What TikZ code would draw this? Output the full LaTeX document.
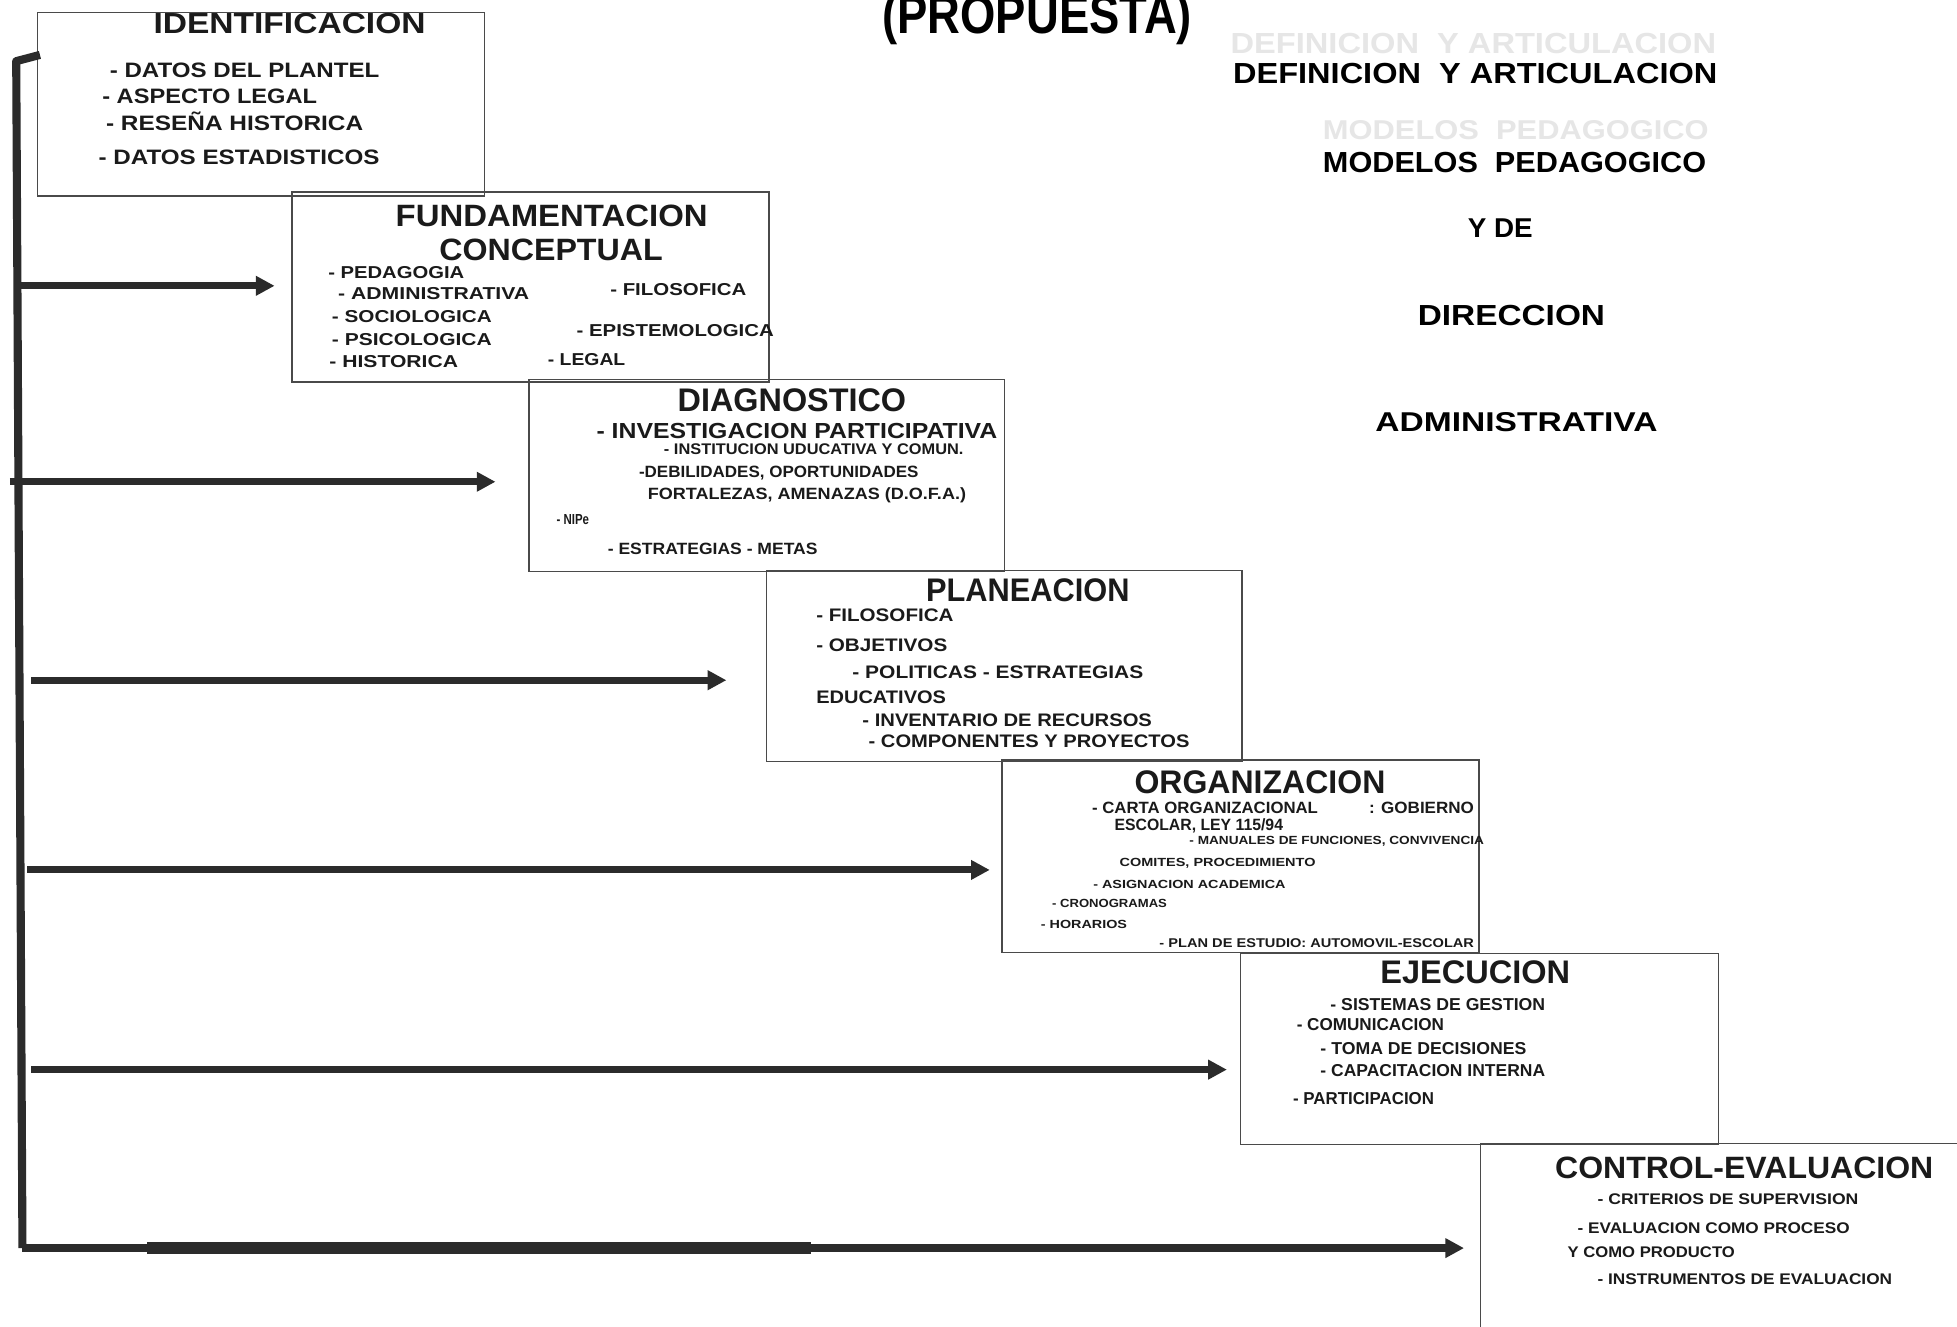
\documentclass[tikz,border=0pt]{standalone}
\usepackage{fontspec}
\setmainfont{Liberation Sans}
\usepackage{graphicx}
\usetikzlibrary{arrows.meta,calc}

\definecolor{ink}{HTML}{1A1A1A}
\definecolor{boxline}{HTML}{4A4A4A}
\definecolor{arrowink}{HTML}{2B2B2B}
\definecolor{ghost}{HTML}{E6E6E6}

% text scaled to a given width and cap height
\newcommand\capbox[3]{\resizebox{#1pt}{#2pt}{\vphantom{X}\smash{#3}}}
% name, left x, centre y, width, cap height, text
\newcommand\lineat[6]{\node[lbl] (#1) at (#2,{#3+#5/2}) {\capbox{#4}{#5}{#6}};}
% name, left x, top y, width, height
\newcommand\boxat[5]{\node[stagebox, minimum width=#4pt, minimum height=#5pt] (#1) at (#2,#3) {};}

\tikzset{
  lbl/.style={anchor=base west, inner sep=0pt, outer sep=0pt, text=ink, font=\bfseries},
  side/.style={lbl, text=black},
  faint/.style={lbl, text=ghost},
  stagebox/.style={draw=boxline, line width=1.2pt, inner sep=0pt, outer sep=0pt, anchor=north west},
  conn/.style={draw=arrowink, line width=5.5pt, -{Triangle[length=15pt,width=15pt]}},
  spine/.style={draw=arrowink, line width=6.5pt, line join=round},
}

\begin{document}
\begin{tikzpicture}[x=1pt,y=-1pt]
\useasboundingbox (0,0) rectangle (1568,1063);
\clip (0,0) rectangle (1568,1063);
\fill[white] (0,0) rectangle (1568,1063);

% title, cut by the top edge
\node[side] (title) at (707,27) {\capbox{248}{30}{(PROPUESTA)}};

% stage boxes
\boxat{ident}{30}{10}{358}{147}
\boxat{fund}{234}{154}{382}{152}
\boxat{diag}{424}{304}{381}{154}
\boxat{plan}{614}{457}{381}{153}
\boxat{orga}{803}{609}{382}{154}
\boxat{ejec}{994}{764}{383}{153}
\boxat{ctrl}{1186}{916}{500}{300}

% IDENTIFICACION
\lineat{idT}{123}{19}{218}{16}{IDENTIFICACION}
\lineat{id1}{88}{56}{216}{11.5}{- DATOS DEL PLANTEL}
\lineat{id2}{82}{77}{172}{11.5}{- ASPECTO LEGAL}
\lineat{id3}{85}{99}{206}{11.5}{- RESEÑA HISTORICA}
\lineat{id4}{79}{126}{225}{11.5}{- DATOS ESTADISTICOS}

% FUNDAMENTACION CONCEPTUAL
\lineat{fuT1}{317}{173}{250}{17}{FUNDAMENTACION}
\lineat{fuT2}{352}{200}{179}{17}{CONCEPTUAL}
\lineat{fu1}{263}{218}{109}{9.5}{- PEDAGOGIA}
\lineat{fu2}{271}{235}{153}{9.5}{- ADMINISTRATIVA}
\lineat{fu3}{489}{232}{109}{9.5}{- FILOSOFICA}
\lineat{fu4}{266}{254}{128}{9.5}{- SOCIOLOGICA}
\lineat{fu5}{462}{265}{158}{9.5}{- EPISTEMOLOGICA}
\lineat{fu6}{266}{272}{128}{9.5}{- PSICOLOGICA}
\lineat{fu7}{264}{290}{103}{9.5}{- HISTORICA}
\lineat{fu8}{439}{288}{62}{9.5}{- LEGAL}

% DIAGNOSTICO
\lineat{diT}{543}{321}{183}{18}{DIAGNOSTICO}
\lineat{di1}{478}{345}{321}{12}{- INVESTIGACION PARTICIPATIVA}
\lineat{di2}{532}{360}{240}{8.5}{- INSTITUCION UDUCATIVA Y COMUN.}
\lineat{di3}{512}{378}{224}{9}{-DEBILIDADES, OPORTUNIDADES}
\lineat{di4}{519}{396}{255}{9}{FORTALEZAS, AMENAZAS (D.O.F.A.)}
\lineat{di5}{446}{416}{26}{8}{- NIPe}
\lineat{di6}{487}{440}{168}{9}{- ESTRATEGIAS - METAS}

% PLANEACION
\lineat{plT}{742}{473}{163}{18}{PLANEACION}
\lineat{pl1}{654}{493}{110}{10}{- FILOSOFICA}
\lineat{pl2}{654}{517}{105}{10}{- OBJETIVOS}
\lineat{pl3}{683}{539}{233}{10}{- POLITICAS - ESTRATEGIAS}
\lineat{pl4}{654}{559}{104}{10}{EDUCATIVOS}
\lineat{pl5}{691}{577}{232}{10}{- INVENTARIO DE RECURSOS}
\lineat{pl6}{696}{594}{257}{10}{- COMPONENTES Y PROYECTOS}

% ORGANIZACION
\lineat{orT}{909}{627}{201}{18}{ORGANIZACION}
\lineat{or1}{875}{647}{181}{9}{- CARTA ORGANIZACIONAL}
\lineat{or2}{1097}{647}{84}{9}{: GOBIERNO}
\lineat{or3}{893}{661}{135}{9}{ESCOLAR, LEY 115/94}
\lineat{or4}{953}{673}{236}{6.5}{- MANUALES DE FUNCIONES, CONVIVENCIA}
\lineat{or5}{897}{691}{157}{6.5}{COMITES, PROCEDIMIENTO}
\lineat{or6}{876}{709}{154}{6.5}{- ASIGNACION ACADEMICA}
\lineat{or7}{843}{724}{92}{6.5}{- CRONOGRAMAS}
\lineat{or8}{834}{741}{69}{6.5}{- HORARIOS}
\lineat{or9}{929}{756}{252}{7}{- PLAN DE ESTUDIO: AUTOMOVIL-ESCOLAR}

% EJECUCION
\lineat{ejT}{1106}{779}{152}{18}{EJECUCION}
\lineat{ej1}{1066}{805}{172}{9.5}{- SISTEMAS DE GESTION}
\lineat{ej2}{1039}{821}{118}{9.5}{- COMUNICACION}
\lineat{ej3}{1058}{840}{165}{9.5}{- TOMA DE DECISIONES}
\lineat{ej4}{1058}{858}{180}{9.5}{- CAPACITACION INTERNA}
\lineat{ej5}{1036}{880}{113}{9.5}{- PARTICIPACION}

% CONTROL-EVALUACION
\lineat{ceT}{1246}{936}{303}{17}{CONTROL-EVALUACION}
\lineat{ce1}{1280}{961}{209}{8.5}{- CRITERIOS DE SUPERVISION}
\lineat{ce2}{1264}{984}{218}{8.5}{- EVALUACION COMO PROCESO}
\lineat{ce3}{1256}{1003}{134}{8.5}{Y COMO PRODUCTO}
\lineat{ce4}{1280}{1025}{236}{8.5}{- INSTRUMENTOS DE EVALUACION}

% right-hand heading with its faint offprint
\node[faint] (gh1) at (986,43) {\capbox{389}{16}{DEFINICION\ \ Y ARTICULACION}};
\node[faint] (gh2) at (1060,111.5) {\capbox{309}{15}{MODELOS\ \ PEDAGOGICO}};
\node[side] (r1) at (988,67) {\capbox{388}{16}{DEFINICION\ \ Y ARTICULACION}};
\node[side] (r2) at (1060,138) {\capbox{307}{16}{MODELOS\ \ PEDAGOGICO}};
\node[side] (r3) at (1176,190.5) {\capbox{52}{15}{Y DE}};
\node[side] (r4) at (1136,261) {\capbox{150}{16}{DIRECCION}};
\node[side] (r5) at (1102,345.5) {\capbox{226}{15}{ADMINISTRATIVA}};

% feedback spine and arrows into each stage
\coordinate (hook) at (32,44);
\coordinate (sTop) at (13,49);
\coordinate (sBot) at (18,1000);
\coordinate (thickStart) at (118,1000);
\coordinate (thickEnd) at (650,1000);
\coordinate (s1) at (17,229);
\coordinate (s2) at (8,386);
\coordinate (s3) at (25,545);
\coordinate (s4) at (22,697);
\coordinate (s5) at (25,857);

\draw[spine] (hook) -- (sTop) -- (sBot);
\draw[conn] (s1) -- (s1 -| fund.west) [shorten >=14pt];
\draw[conn] (s2) -- (s2 -| diag.west) [shorten >=27pt];
\draw[conn] (s3) -- (s3 -| plan.west) [shorten >=32pt];
\draw[conn] (s4) -- (s4 -| orga.west) [shorten >=10pt];
\draw[conn] (s5) -- (s5 -| ejec.west) [shorten >=11pt];
\draw[arrowink, line width=10pt] (thickStart) -- (thickEnd);
\draw[conn, line width=6.5pt] (sBot) -- (sBot -| ctrl.west) [shorten >=13pt];
\end{tikzpicture}
\end{document}
